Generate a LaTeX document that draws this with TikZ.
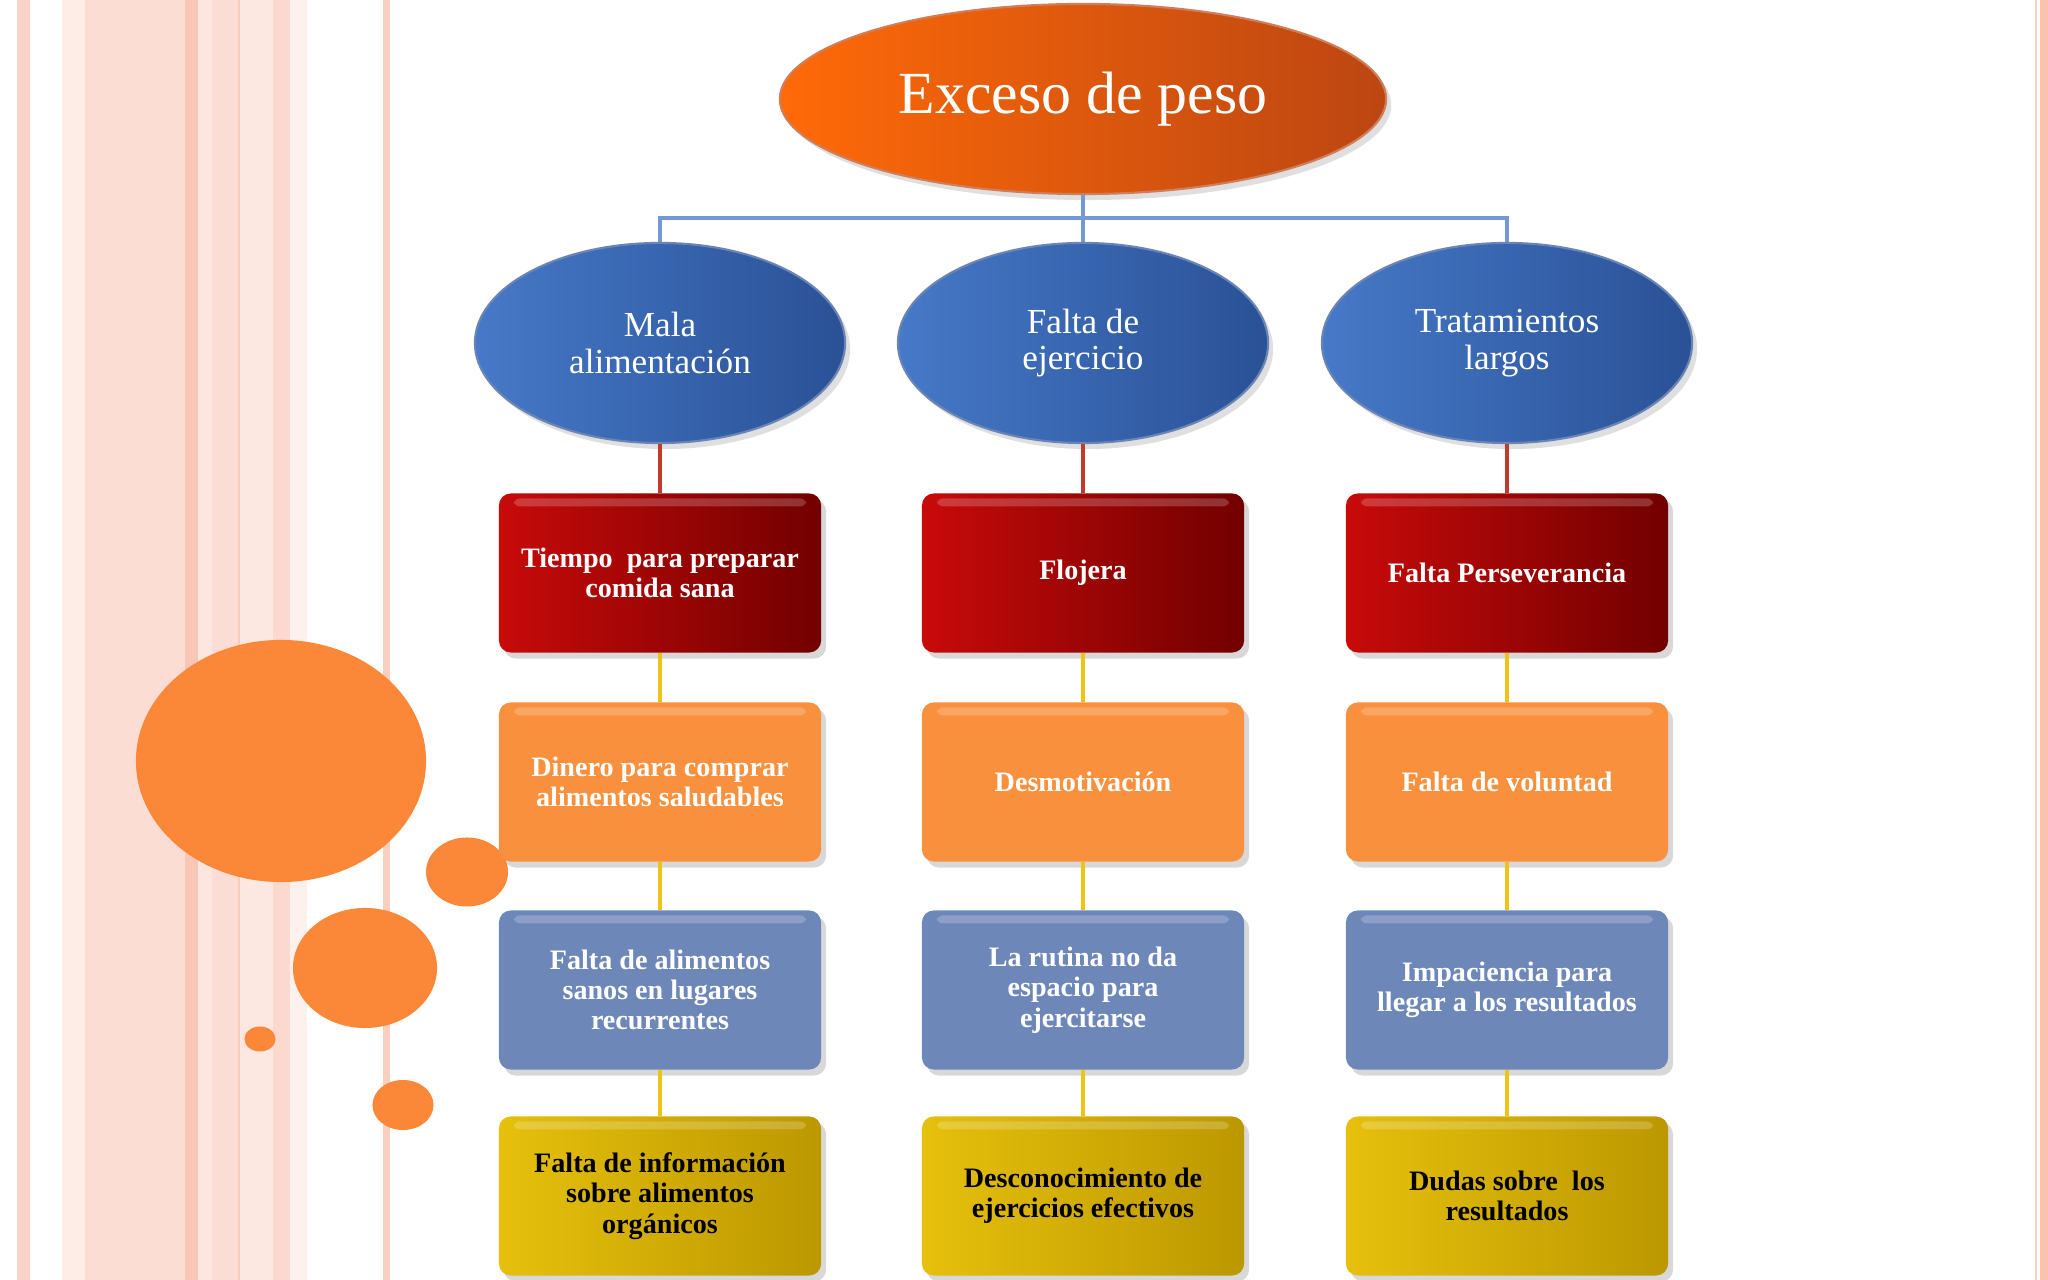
\documentclass[tikz,border=0pt]{standalone}
\usepackage{fontspec}
\setmainfont{Liberation Serif}
\usetikzlibrary{shapes.geometric,shadows}
\definecolor{sA}{HTML}{FAD3C6}
\definecolor{sB}{HTML}{FEECE6}
\definecolor{sC}{HTML}{FBDDD4}
\definecolor{sD}{HTML}{F9C7B5}
\definecolor{sE}{HTML}{FDE6E0}
\definecolor{sF}{HTML}{FBDDD5}
\definecolor{sG}{HTML}{F9CDBE}
\definecolor{sH}{HTML}{FDE7E1}
\definecolor{sI}{HTML}{FBD9CF}
\definecolor{sJ}{HTML}{FEF0EC}
\definecolor{sK}{HTML}{FACFC0}
\definecolor{sL}{HTML}{FCC4AE}
\definecolor{circC}{HTML}{FB8838}
\definecolor{topL}{HTML}{FF6A08}
\definecolor{topR}{HTML}{BC4612}
\definecolor{bluL}{HTML}{4679C8}
\definecolor{bluR}{HTML}{2A5196}
\definecolor{redL}{HTML}{C80A0A}
\definecolor{redR}{HTML}{720000}
\definecolor{orgC}{HTML}{F8903E}
\definecolor{bboxC}{HTML}{6E87B9}
\definecolor{yelL}{HTML}{E6C00C}
\definecolor{yelR}{HTML}{BC9800}
\definecolor{conBlue}{HTML}{7498D2}
\definecolor{conRed}{HTML}{C23A2A}
\definecolor{conYel}{HTML}{EDC316}
\begin{document}
\begin{tikzpicture}[x=0.01cm,y=-0.01cm,
  topell/.style={ellipse,inner sep=0pt,minimum width=6.06cm,minimum height=1.9cm,
    left color=topL,right color=topR,draw=topR!70!white,line width=0.6pt,text=white,
    font=\fontsize{17}{20}\selectfont,
    drop shadow={shadow xshift=0.5mm,shadow yshift=-0.6mm,opacity=0.25}},
  bluell/.style={ellipse,inner sep=0pt,minimum width=3.7cm,minimum height=2.0cm,
    left color=bluL,right color=bluR,draw=bluR!70!white,line width=0.6pt,text=white,align=center,
    font=\fontsize{10}{10.4}\selectfont,
    drop shadow={shadow xshift=0.5mm,shadow yshift=-0.6mm,opacity=0.25}},
  cbox/.style={rectangle,rounded corners=1.2mm,inner sep=0pt,minimum width=3.22cm,minimum height=1.59cm,
    align=center,font=\fontsize{8}{8.6}\selectfont\bfseries,
    drop shadow={shadow xshift=0.5mm,shadow yshift=-0.6mm,opacity=0.3},
    path picture={\fill[white,opacity=0.2,rounded corners=0.6mm]
      ([xshift=1.5mm,yshift=-0.5mm]path picture bounding box.north west) rectangle
      ([xshift=-1.5mm,yshift=-1.3mm]path picture bounding box.north east);}},
  redbox/.style={cbox,left color=redL,right color=redR,text=white},
  orgbox/.style={cbox,fill=orgC,text=white},
  blubox/.style={cbox,fill=bboxC,text=white},
  yelbox/.style={cbox,left color=yelL,right color=yelR,text=black},
  bcon/.style={draw=conBlue,line width=1.4pt},
  rcon/.style={draw=conRed,line width=1.4pt},
  ycon/.style={draw=conYel,line width=1.4pt},
  circ/.style={fill=circC}
]
\useasboundingbox (0,0) rectangle (2048,1280);
\fill[white] (0,0) rectangle (2048,1280);
% left stripes
\fill[sA] (17,0) rectangle (30,1280);
\fill[sB] (62,0) rectangle (85,1280);
\fill[sC] (85,0) rectangle (185,1280);
\fill[sD] (185,0) rectangle (198,1280);
\fill[sE] (198,0) rectangle (212,1280);
\fill[sF] (212,0) rectangle (238,1280);
\fill[sG] (238,0) rectangle (240,1280);
\fill[sH] (240,0) rectangle (273,1280);
\fill[sI] (273,0) rectangle (290,1280);
\fill[sJ] (290,0) rectangle (307,1280);
\fill[sK] (383,0) rectangle (390,1280);
% right stripes
\fill[sK] (2035,0) rectangle (2037,1280);
\fill[sL] (2040,0) rectangle (2048,1280);
% orange circles
\fill[circ] (281,761) ellipse [x radius=1.45cm,y radius=1.21cm];
\fill[circ] (467,872) ellipse [x radius=0.41cm,y radius=0.345cm];
\fill[circ] (365,968) ellipse [x radius=0.72cm,y radius=0.6cm];
\fill[circ] (260,1039) ellipse [x radius=0.155cm,y radius=0.125cm];
\fill[circ] (403,1105) ellipse [x radius=0.305cm,y radius=0.25cm];
% nodes
\node[topell] (top) at (1083,99) {Exceso de peso};
\node[bluell] (e1) at (660,343) {Mala\\alimentación};
\node[bluell] (e2) at (1083,343) {Falta de\\ejercicio};
\node[bluell] (e3) at (1507,343) {Tratamientos\\largos};
\node[redbox] (r1) at (660,573) {Tiempo\ \ para preparar\\comida sana};
\node[redbox] (r2) at (1083,573) {Flojera};
\node[redbox] (r3) at (1507,573) {Falta Perseverancia};
\node[orgbox] (o1) at (660,782) {Dinero para comprar\\alimentos saludables};
\node[orgbox] (o2) at (1083,782) {Desmotivación};
\node[orgbox] (o3) at (1507,782) {Falta de voluntad};
\node[blubox] (b1) at (660,990) {Falta de alimentos\\sanos en lugares\\recurrentes};
\node[blubox] (b2) at (1083,990) {La rutina no da\\espacio para\\ejercitarse};
\node[blubox] (b3) at (1507,990) {Impaciencia para\\llegar a los resultados};
\node[yelbox] (y1) at (660,1196) {Falta de información\\sobre alimentos\\orgánicos};
\node[yelbox] (y2) at (1083,1196) {Desconocimiento de\\ejercicios efectivos};
\node[yelbox] (y3) at (1507,1196) {Dudas sobre\ \ los\\resultados};
% connectors
\coordinate (jn) at (1083,218);
\draw[bcon] (top.south) -- (jn);
\draw[bcon] (jn) -- (e2.north);
\draw[bcon] (jn) -| (e1.north);
\draw[bcon] (jn) -| (e3.north);
\foreach \c in {1,2,3}{
  \draw[rcon] (e\c.south) -- (r\c.north);
  \draw[ycon] (r\c.south) -- (o\c.north);
  \draw[ycon] (o\c.south) -- (b\c.north);
  \draw[ycon] (b\c.south) -- (y\c.north);
}
\end{tikzpicture}
\end{document}
